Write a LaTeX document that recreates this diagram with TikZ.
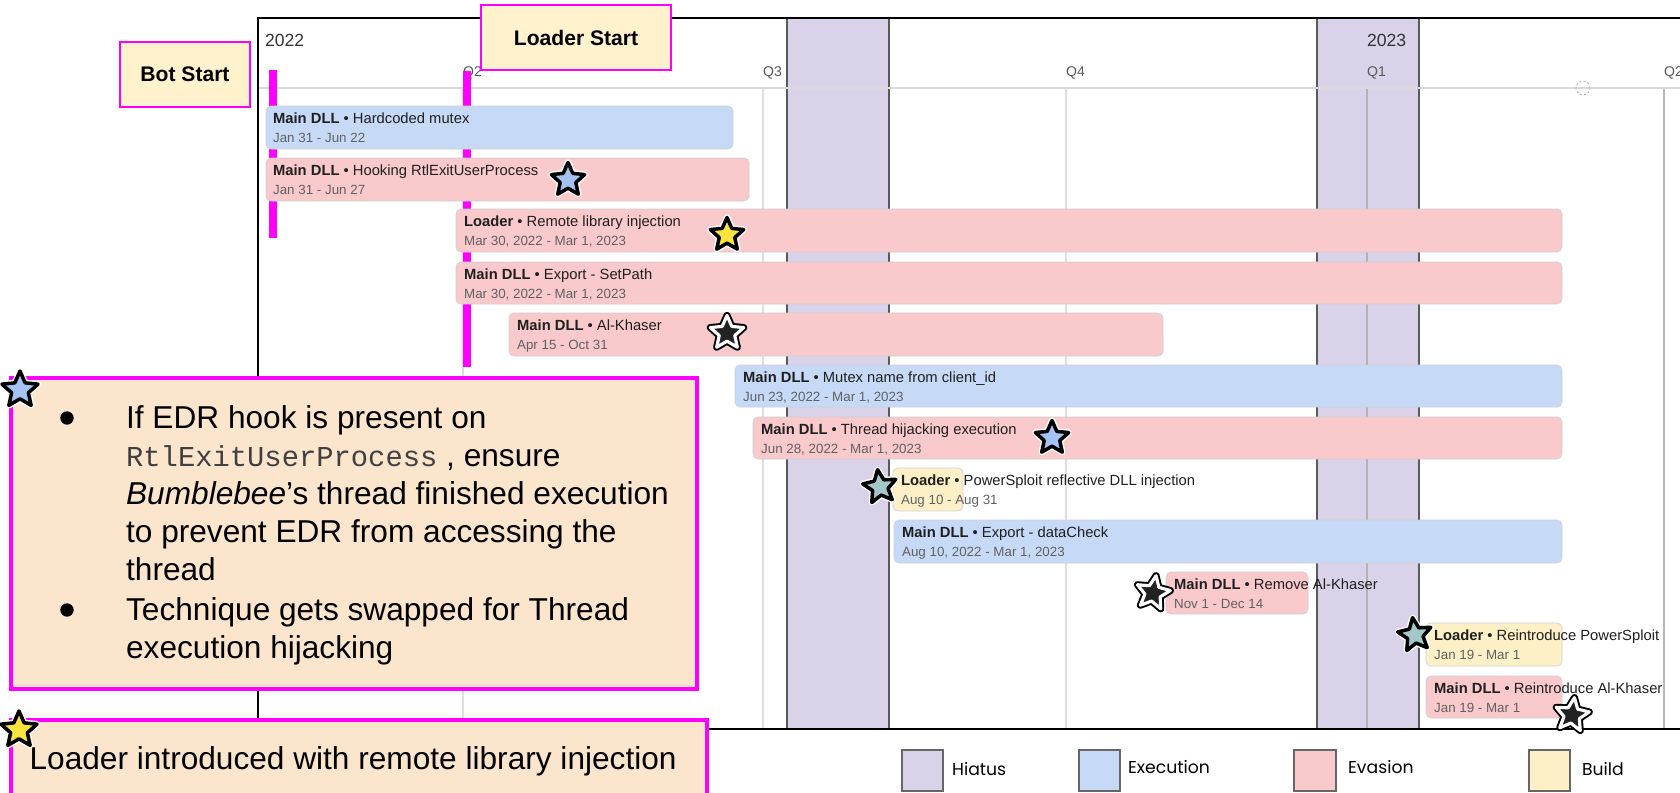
\documentclass[tikz,border=0pt]{standalone}
\usepackage{fontspec}
\setmainfont{Liberation Sans}
\setmonofont{Liberation Mono}
\newfontfamily\legendfont{Poppins}
\usepackage{tikz}
\usetikzlibrary{shapes.geometric}

\definecolor{hiatus}{HTML}{D9D2E9}
\definecolor{execfill}{HTML}{C6DAF8}
\definecolor{evasfill}{HTML}{F9C9CB}
\definecolor{buildfill}{HTML}{FDF0C6}
\definecolor{startfill}{HTML}{FFF2CC}
\definecolor{notefill}{HTML}{FCE5CD}
\definecolor{pinkline}{HTML}{FF00FF}
\definecolor{starblue}{HTML}{A4C2F4}
\definecolor{staryellow}{HTML}{F8E43C}
\definecolor{starteal}{HTML}{A2C8C9}
\definecolor{stardark}{HTML}{222222}

\begin{document}
\begin{tikzpicture}[x=0.05cm, y=-0.05cm,
  bar/.style={draw=black!18, line width=1pt, rounded corners=7pt},
  bartitle/.style={anchor=base west, inner sep=0pt, text=black!88, font=\fontsize{21}{25}\selectfont},
  bardate/.style={anchor=base west, inner sep=0pt, text=black!62, font=\fontsize{19}{23}\selectfont},
  grid/.style={draw=black!13, line width=2pt},
  bandedge/.style={draw=black!65, line width=3pt},
  milestone/.style={draw=pinkline, line width=10pt},
  startbox/.style={draw=pinkline, line width=3pt, fill=startfill, inner sep=0pt, minimum height=92pt, font=\bfseries\fontsize{30}{36}\selectfont},
  note/.style={draw=pinkline, line width=4.5pt, fill=notefill},
  noteline/.style={anchor=base west, inner sep=0pt, font=\fontsize{45}{54}\selectfont},
  year/.style={anchor=base west, inner sep=0pt, text=black!80, font=\fontsize{25}{30}\selectfont},
  quarter/.style={anchor=base west, inner sep=0pt, text=black!65, font=\fontsize{20}{24}\selectfont},
  swatch/.style={draw=black!60, line width=3pt},
  legend/.style={anchor=base west, inner sep=0pt, font=\legendfont\fontsize{24.5}{30}\selectfont},
  starmark/.style={star, star points=5, star point ratio=2.15, minimum size=50pt, inner sep=0pt,
    line join=round, line width=5pt, draw=black, preaction={draw=white, line width=9pt}},
  darkstar/.style={star, star points=5, star point ratio=2.15, minimum size=50pt, inner sep=0pt,
    line join=round, line width=4.5pt, draw=white, fill=stardark, preaction={draw=black, line width=10pt}}
]
\useasboundingbox (0,0) rectangle (1680,792);
\fill[white] (0,0) rectangle (1680,792);

% hiatus periods
\fill[hiatus] (787,18) rectangle (889,729);
\fill[hiatus] (1317,18) rectangle (1419,729);
\draw[bandedge] (787,18) -- (787,729) (889,18) -- (889,729);
\draw[bandedge] (1317,18) -- (1317,729) (1419,18) -- (1419,729);

% quarter grid
\draw[grid] (463,88) -- (463,729);
\draw[grid] (763,88) -- (763,729);
\draw[grid] (1066,88) -- (1066,729);
\draw[grid, draw=black!30] (1367,88) -- (1367,729);
\draw[grid, draw=black!28] (1664,88) -- (1664,729);
\draw[black!15, line width=2pt] (258,88) -- (1680,88);
\draw[black!25, dashed, line width=1.5pt] (1583,88) circle (10pt);

% frame
\draw[line width=3.5pt] (1680,18) -- (258,18) -- (258,729) -- (1680,729);

\node[year] (y22) at (265,46) {2022};
\node[year] (y23) at (1367,46) {2023};
\node[quarter] (q2a) at (463,76) {Q2};
\node[quarter] (q3) at (763,76) {Q3};
\node[quarter] (q4) at (1066,76) {Q4};
\node[quarter] (q1) at (1367,76) {Q1};
\node[quarter] (q2b) at (1664,76) {Q2};

% start markers
\coordinate (botTop) at (273,70);
\coordinate (botEnd) at (273,238);
\coordinate (ldrTop) at (467,71);
\coordinate (ldrEnd) at (467,367);
\draw[milestone] (botTop) -- (botEnd);
\draw[milestone] (ldrTop) -- (ldrEnd);

% bars
\draw[bar, fill=execfill] (266,106) rectangle (733,149);
\node[bartitle] (t1) at (273,123) {\textbf{Main DLL} • Hardcoded mutex};
\node[bardate] (d1) at (273,142) {Jan 31 - Jun 22};

\draw[bar, fill=evasfill] (266,158) rectangle (749,201);
\node[bartitle] (t2) at (273,175) {\textbf{Main DLL} • Hooking RtlExitUserProcess};
\node[bardate] (d2) at (273,194) {Jan 31 - Jun 27};

\draw[bar, fill=evasfill] (456,209) rectangle (1562,252);
\node[bartitle] (t3) at (464,226) {\textbf{Loader} • Remote library injection};
\node[bardate] (d3) at (464,245) {Mar 30, 2022 - Mar 1, 2023};

\draw[bar, fill=evasfill] (456,262) rectangle (1562,304);
\node[bartitle] (t4) at (464,279) {\textbf{Main DLL} • Export - SetPath};
\node[bardate] (d4) at (464,298) {Mar 30, 2022 - Mar 1, 2023};

\draw[bar, fill=evasfill] (509,313) rectangle (1163,356);
\node[bartitle] (t5) at (517,330) {\textbf{Main DLL} • Al-Khaser};
\node[bardate] (d5) at (517,349) {Apr 15 - Oct 31};

\draw[bar, fill=execfill] (735,365) rectangle (1562,407);
\node[bartitle] (t6) at (743,382) {\textbf{Main DLL} • Mutex name from client\_id};
\node[bardate] (d6) at (743,401) {Jun 23, 2022 - Mar 1, 2023};

\draw[bar, fill=evasfill] (753,417) rectangle (1562,459);
\node[bartitle] (t7) at (761,434) {\textbf{Main DLL} • Thread hijacking execution};
\node[bardate] (d7) at (761,453) {Jun 28, 2022 - Mar 1, 2023};

\draw[bar, fill=buildfill] (893,468) rectangle (963,511);
\node[bartitle] (t8) at (901,485) {\textbf{Loader} • PowerSploit reflective DLL injection};
\node[bardate] (d8) at (901,504) {Aug 10 - Aug 31};

\draw[bar, fill=execfill] (894,520) rectangle (1562,563);
\node[bartitle] (t9) at (902,537) {\textbf{Main DLL} • Export - dataCheck};
\node[bardate] (d9) at (902,556) {Aug 10, 2022 - Mar 1, 2023};

\draw[bar, fill=evasfill] (1166,572) rectangle (1308,614);
\node[bartitle] (t10) at (1174,589) {\textbf{Main DLL} • Remove Al-Khaser};
\node[bardate] (d10) at (1174,608) {Nov 1 - Dec 14};

\draw[bar, fill=buildfill] (1426,623) rectangle (1562,666);
\node[bartitle] (t11) at (1434,640) {\textbf{Loader} • Reintroduce PowerSploit};
\node[bardate] (d11) at (1434,659) {Jan 19 - Mar 1};

\draw[bar, fill=evasfill] (1426,676) rectangle (1562,718);
\node[bartitle] (t12) at (1434,693) {\textbf{Main DLL} • Reintroduce Al-Khaser};
\node[bardate] (d12) at (1434,712) {Jan 19 - Mar 1};

% stars
\node[starmark, fill=starblue] (s2) at (568,180) {};
\node[starmark, fill=staryellow] (s3) at (727,235) {};
\node[darkstar] (s5) at (727,333) {};
\node[starmark, fill=starblue] (s7) at (1052,438) {};
\node[starmark, fill=starteal, rotate=8] (s8) at (880,487) {};
\node[darkstar, rotate=-10] (s10) at (1153,593) {};
\node[starmark, fill=starteal, rotate=8] (s11) at (1415,635) {};
\node[darkstar, rotate=-8] (s12) at (1572,715) {};

% start labels
\node[startbox, minimum width=185pt] (botstart) at (185,74.5) {Bot Start};
\node[startbox, minimum width=270pt] (ldrstart) at (576,37.5) {Loader Start};

% legend
\draw[swatch, fill=hiatus] (902,750) rectangle (943,791);
\node[legend] (lh) at (952,775) {Hiatus};
\draw[swatch, fill=execfill] (1079,750) rectangle (1120,791);
\node[legend] (le) at (1128,773) {Execution};
\draw[swatch, fill=evasfill] (1294,750) rectangle (1336,791);
\node[legend] (lv) at (1348,773) {Evasion};
\draw[swatch, fill=buildfill] (1529,750) rectangle (1570,791);
\node[legend] (lb) at (1582,775) {Build};

% notes
\draw[note] (11,378) rectangle (697,689);
\node[circle, fill=black, minimum size=19pt, inner sep=0pt] (b1) at (67,418) {};
\node[circle, fill=black, minimum size=19pt, inner sep=0pt] (b2) at (67,610) {};
\node[noteline] (n1) at (126,428) {If EDR hook is present on};
\node[noteline] (n2) at (126,466) {{\ttfamily\color{black!75}\fontsize{41}{54}\selectfont RtlExitUserProcess} , ensure};
\node[noteline] (n3) at (126,504) {\textit{Bumblebee}’s thread finished execution};
\node[noteline] (n4) at (126,542) {to prevent EDR from accessing the};
\node[noteline] (n5) at (126,580) {thread};
\node[noteline] (n6) at (126,620) {Technique gets swapped for Thread};
\node[noteline] (n7) at (126,658) {execution hijacking};
\node[starmark, fill=starblue, minimum size=54pt] (ns1) at (20,390) {};

\draw[note] (11,720) rectangle (707,810);
\node[noteline] (m1) at (29.5,769) {Loader introduced with remote library injection};
\node[starmark, fill=staryellow, minimum size=54pt] (ns2) at (19,730) {};
\end{tikzpicture}
\end{document}
